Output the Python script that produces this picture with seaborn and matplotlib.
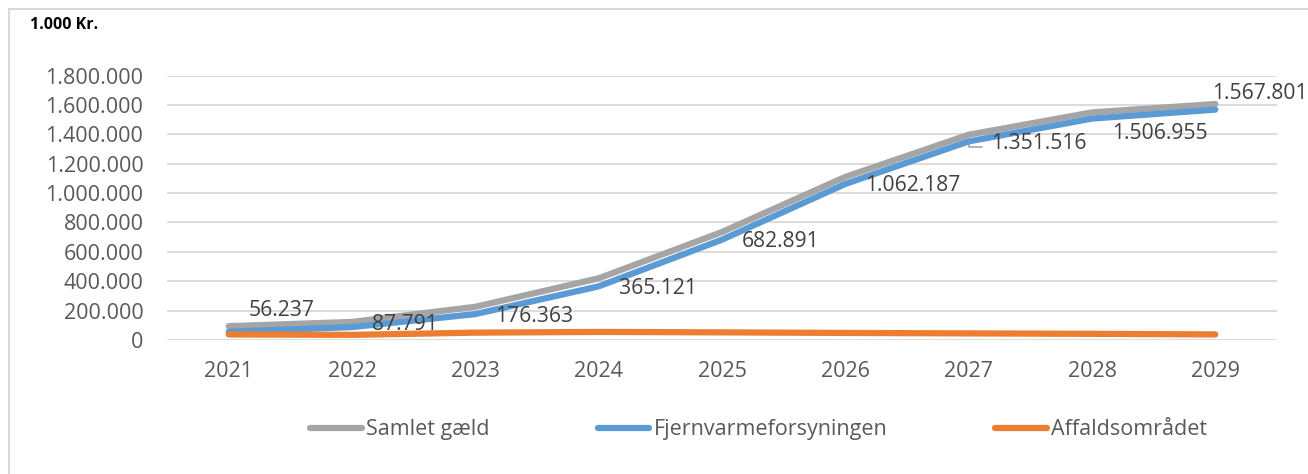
import pandas as pd
import matplotlib
matplotlib.use("Agg")
import matplotlib.pyplot as plt
from matplotlib.patches import Rectangle
from matplotlib.ticker import FuncFormatter
import seaborn as sns

# data (1.000 kr.)
years = [2021, 2022, 2023, 2024, 2025, 2026, 2027, 2028, 2029]
samlet_gaeld = [94000, 123000, 226000, 420000, 735000, 1110000, 1397000, 1549000, 1606000]
fjernvarme = [56237, 87791, 176363, 365121, 682891, 1062187, 1351516, 1506955, 1567801]
affald = [38000, 35000, 50000, 55000, 52000, 48000, 45000, 42000, 38000]
series_names = ["Samlet gæld", "Fjernvarmeforsyningen", "Affaldsområdet"]

# label offsets in pixels, positive y = up (Excel placed them by hand)
label_offsets = [(20, 21), (20, 3), (20, -2), (20, -2), (20, -2), (20, -2), (22, -2), (20, -15), (-3, 16)]

df = pd.DataFrame({
    "year": years * 3,
    "value": samlet_gaeld + fjernvarme + affald,
    "serie": [series_names[0]] * 9 + [series_names[1]] * 9 + [series_names[2]] * 9,
})

sns.set_theme(style="white")
plt.rcParams["font.family"] = ["Open Sans", "DejaVu Sans"]

fig = plt.figure(figsize=(13.08, 4.74), dpi=100)
ax = fig.add_axes([0.1277, 0.2827, 0.8486, 0.558])

palette = {"Samlet gæld": "#A5A5A5", "Fjernvarmeforsyningen": "#5B9BD5", "Affaldsområdet": "#ED7D31"}
sns.lineplot(data=df, x="year", y="value", hue="serie", hue_order=series_names,
             palette=palette, linewidth=4.5, ax=ax, legend=False, zorder=3)
for ln in ax.get_lines():
    ln.set_solid_capstyle("round")
    ln.set_solid_joinstyle("round")

for i, (x, y) in enumerate(zip(years, fjernvarme)):
    dx, dy = label_offsets[i]
    ax.annotate(f"{y:,}".replace(",", "."), (x, y), xytext=(dx, dy), textcoords="offset pixels",
                ha="left", va="center", fontsize=15.2, color="#404040", zorder=4)

# small leader line Excel drew for the 2027 label
ax.annotate("", xy=(years[6], fjernvarme[6]), xytext=(16, -6), textcoords="offset pixels",
            arrowprops=dict(arrowstyle="-", color="#A5A5A5", lw=1.2,
                            connectionstyle="angle,angleA=0,angleB=90,rad=0"), zorder=2)

ax.set_xlim(2020.5, 2029.5)
ax.set_ylim(0, 1800000)
ax.set_yticks(range(0, 1800001, 200000))
ax.set_xticks(years)
ax.yaxis.set_major_formatter(FuncFormatter(lambda v, p: f"{int(v):,}".replace(",", ".")))
ax.grid(axis="y", color="#D9D9D9", linewidth=1.3)
ax.grid(axis="x", visible=False)
ax.tick_params(axis="both", length=0, labelsize=15.5, colors="#595959")
ax.tick_params(axis="y", pad=17)
ax.tick_params(axis="x", pad=15)
ax.set_xlabel("")
ax.set_ylabel("")
for s in ax.spines.values():
    s.set_visible(False)

# legend at the bottom
handles = [plt.Line2D([], [], color=palette[n], linewidth=4.5, solid_capstyle="round") for n in series_names]
fig.legend(handles, series_names, loc="center", bbox_to_anchor=(0.58, 0.093), ncol=3,
           frameon=False, fontsize=15.5, handlelength=2.4, handletextpad=0.2, columnspacing=5.0,
           labelcolor="#595959")

fig.text(0.023, 0.948, "1.000 Kr.", fontsize=11.5, fontweight="bold", color="black", ha="left", va="center")

# chart area border
fig.patches.append(Rectangle((0.007, -0.05), 1.1, 1.031, transform=fig.transFigure,
                             fill=False, edgecolor="#D9D9D9", linewidth=1.5))

fig.savefig("out.png", dpi=100, facecolor="white")
